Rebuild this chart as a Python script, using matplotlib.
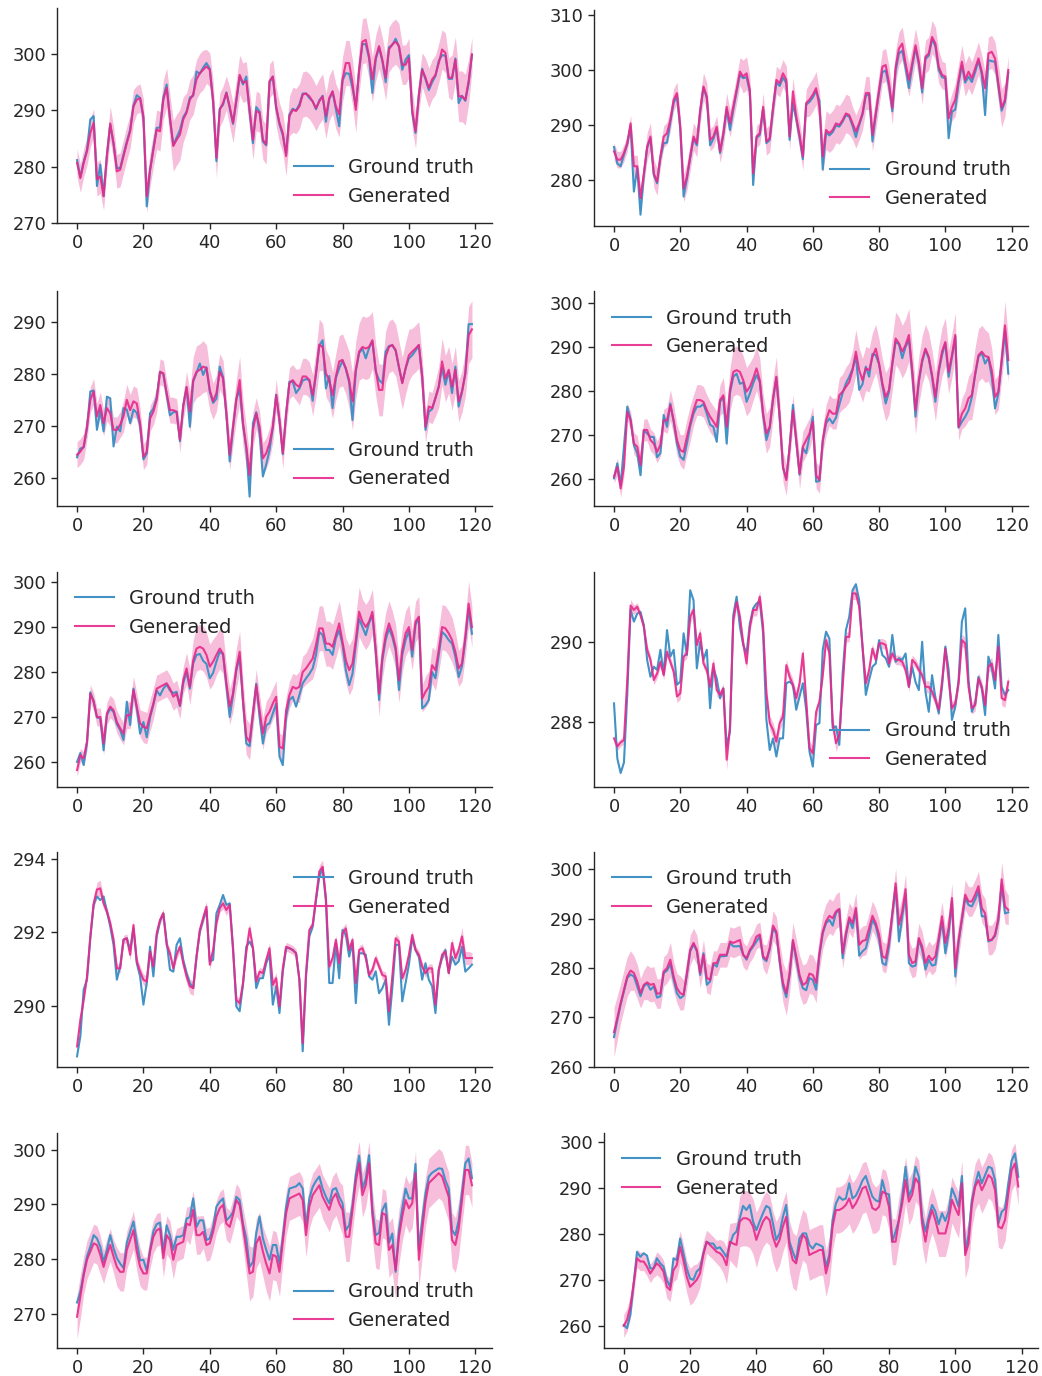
import matplotlib
matplotlib.use("Agg")
import matplotlib.pyplot as plt
import numpy as np

plt.rcParams['font.family'] = ['DejaVu Sans']
plt.rcParams['text.color'] = '#262626'
plt.rcParams['axes.labelcolor'] = '#262626'
plt.rcParams['xtick.color'] = '#262626'
plt.rcParams['ytick.color'] = '#262626'

steps = list(range(120))
xticks = [0, 20, 40, 60, 80, 100, 120]
labels = ["Ground truth", "Generated"]

# ---------------- Panel 1 ----------------
p1_gen = [280.7,278.0,280.7,282.8,286.0,287.8,277.8,278.3,274.8,282.0,
287.7,284.2,279.2,279.5,281.9,284.2,286.3,290.7,291.9,292.2,
289.0,274.8,279.5,283.0,286.6,286.3,291.9,294.0,288.7,283.7,
284.8,285.7,288.4,289.6,291.9,292.8,295.5,296.6,297.2,297.8,
297.2,291.9,281.6,290.1,291.3,293.1,290.7,287.8,291.9,296.3,
294.9,295.2,290.1,284.8,289.9,289.6,284.8,284.0,295.2,296.0,
290.7,287.8,286.0,281.9,289.0,290.1,289.9,290.7,292.8,293.0,
292.5,291.6,290.4,291.6,292.5,289.0,292.2,293.4,290.7,289.3,
295.5,298.4,298.4,294.9,290.1,297.2,302.2,302.5,299.6,295.5,
299.3,301.4,299.0,295.8,300.8,301.7,302.2,301.4,298.1,298.1,
299.3,290.1,286.3,292.8,297.2,295.8,294.0,295.5,296.3,298.4,
300.8,300.2,295.8,295.8,299.0,292.5,292.5,291.9,295.2,299.9]
p1_gt = [281.2,278.2,280.9,283.0,288.4,289.0,276.6,280.4,274.8,282.2,
287.5,284.0,279.8,279.8,282.2,284.5,286.6,290.9,292.7,292.2,
288.6,273.0,279.3,283.3,286.9,287.0,292.3,294.6,288.5,283.9,
285.2,286.5,288.8,289.8,292.3,292.6,296.9,296.5,297.6,298.4,
297.4,291.5,281.0,290.3,291.0,293.2,290.4,287.6,291.6,296.0,
294.6,296.0,289.7,284.2,290.6,289.8,284.5,283.8,295.0,296.0,
290.4,287.5,285.6,282.3,289.3,290.3,290.0,291.1,293.0,293.0,
292.2,291.6,290.2,291.8,292.6,288.0,292.0,293.3,290.2,287.2,
295.3,296.6,296.5,294.0,290.8,297.0,301.8,301.7,299.2,293.1,
299.0,301.2,298.7,295.0,301.2,301.6,302.7,301.3,297.2,299.0,
299.8,289.5,286.0,292.6,297.4,295.5,293.6,295.0,296.1,298.8,
299.8,299.7,295.6,295.6,299.2,291.3,292.6,291.7,294.8,299.9]
p1_spread = [2.5,2.5,2.5,2.5,2.5,2.5,3.0,3.0,2.5,2.5,
3.0,3.0,3.0,3.0,3.0,3.0,3.0,3.0,2.5,2.5,
3.0,3.0,3.0,3.0,3.5,3.5,3.5,3.5,4.0,4.5,
4.5,4.5,4.0,3.5,3.5,3.5,3.5,3.5,3.5,3.0,
3.0,3.5,3.5,3.0,3.0,3.0,3.5,3.5,3.5,3.5,
3.5,3.5,3.5,3.5,3.5,3.5,3.5,3.5,3.0,3.0,
3.5,3.5,3.5,3.5,3.5,4.0,4.0,4.0,4.0,4.0,
4.0,4.0,4.0,4.0,4.0,4.0,4.0,4.0,4.0,4.0,
4.0,4.0,4.0,4.0,4.0,4.0,4.0,4.0,4.0,4.0,
4.0,4.0,4.0,4.0,4.0,4.0,4.0,4.0,3.5,3.5,
3.5,3.5,3.0,3.0,3.0,3.5,3.5,3.5,3.5,3.5,
3.5,3.5,3.5,4.0,4.0,4.5,4.5,4.5,4.0,3.0]

# ---------------- Panel 2 ----------------
p2_gen = [285.2,283.7,283.7,284.9,286.7,290.3,282.5,282.5,276.7,281.2,
286.1,287.9,281.2,279.7,284.3,287.9,288.5,290.9,294.6,295.8,
289.7,278.5,280.6,284.3,287.9,286.7,292.7,297.0,295.2,287.3,
287.9,289.7,285.2,288.5,293.3,290.3,293.3,296.4,299.7,298.8,
299.4,296.4,281.2,287.9,288.5,293.3,287.0,287.6,293.3,298.2,
297.6,299.4,298.2,287.9,296.1,291.5,288.2,284.3,294.0,294.6,
295.5,296.7,293.3,284.3,289.1,288.5,289.1,290.3,290.0,290.9,
292.1,291.8,290.3,288.8,290.3,292.1,295.8,295.8,288.2,292.1,
296.4,300.6,300.9,297.6,293.1,300.6,303.9,304.8,301.2,298.2,
301.2,304.5,301.5,296.7,302.4,303.0,306.0,304.8,300.6,299.1,
298.8,291.2,293.3,294.6,298.2,301.5,298.2,299.7,298.5,300.3,
302.1,299.7,296.7,303.0,303.3,302.1,297.6,293.1,294.6,300.0]
p2_gt = [286.0,283.0,282.5,284.6,286.5,289.8,277.9,282.2,273.7,280.8,
285.8,287.6,280.9,279.4,284.0,286.7,286.8,290.5,294.0,295.3,
289.2,277.0,280.2,284.0,287.5,286.3,292.3,296.8,294.9,286.3,
287.5,289.3,284.9,288.2,292.8,289.1,292.8,296.0,299.1,298.5,
298.7,296.0,279.1,287.6,288.2,292.9,286.7,287.3,292.8,297.7,
297.1,298.6,297.6,287.3,294.0,291.0,287.7,283.8,293.7,294.2,
295.0,296.2,294.4,281.9,288.7,288.1,288.7,289.9,289.7,290.6,
291.8,291.5,289.8,287.8,290.0,291.9,295.3,295.6,287.0,291.8,
296.0,299.6,299.9,297.0,292.5,299.8,303.0,303.5,300.4,296.7,
300.6,304.0,301.0,295.9,302.0,302.6,305.6,304.3,300.0,298.7,
298.5,287.6,292.4,292.8,297.6,300.8,297.7,298.8,297.8,299.6,
301.7,299.2,291.8,301.8,301.6,301.5,297.0,292.6,294.2,299.5]
p2_spread = [1.5,1.5,1.5,1.5,1.5,1.5,2.0,2.0,2.0,2.0,
2.5,2.5,2.5,2.5,2.0,2.0,2.0,2.0,2.0,2.0,
2.0,2.5,2.5,2.5,2.5,2.5,2.5,2.5,2.5,2.0,
2.0,2.0,2.0,2.5,2.5,2.5,2.5,2.5,2.5,3.0,
3.0,2.5,2.0,2.0,2.0,2.5,2.5,2.5,2.5,2.5,
2.5,2.5,2.5,2.5,2.5,2.5,2.5,2.5,2.5,3.0,
3.0,3.0,3.0,3.0,3.5,3.5,3.5,3.5,3.5,3.5,
3.5,3.5,3.0,3.0,3.0,3.0,3.0,3.0,3.0,3.0,
3.0,3.0,3.0,3.0,3.0,3.0,3.0,3.0,3.0,3.0,
3.0,3.0,3.0,3.0,3.0,3.0,3.0,3.0,3.0,2.5,
2.5,2.5,2.5,3.0,3.0,3.0,3.0,3.0,3.0,3.0,
3.0,3.0,3.0,3.0,3.0,3.0,3.5,3.5,3.0,2.5]

# ---------------- Panel 3 ----------------
p3_gen = [264.4,265.0,266.0,269.8,275.0,276.6,271.8,274.0,270.5,273.4,
272.4,269.2,269.2,270.2,271.8,275.0,273.0,274.7,274.3,270.5,
264.0,265.0,271.4,272.7,275.0,280.4,280.1,276.3,273.0,273.0,
272.7,267.3,273.7,277.5,272.7,278.8,280.4,280.8,281.4,281.1,
276.9,274.7,276.3,280.4,279.1,272.4,264.4,269.8,275.0,278.8,
270.5,266.0,260.5,269.2,272.4,269.8,263.7,264.7,266.6,269.8,
275.9,271.1,264.7,272.4,278.2,278.8,277.9,277.5,279.5,279.5,
278.8,275.9,280.1,285.6,285.2,280.1,278.8,275.9,279.5,282.4,
282.7,281.1,278.8,274.7,280.8,284.3,285.2,284.9,285.2,286.5,
280.8,276.9,276.9,283.3,285.2,285.6,284.6,281.4,278.2,281.1,
283.6,284.3,284.9,285.6,279.5,269.8,273.7,273.4,275.3,277.5,
282.4,279.1,280.8,277.5,280.8,274.7,276.6,280.1,287.5,288.6]
p3_gt = [263.9,265.6,265.8,269.5,276.6,276.8,269.2,273.0,268.9,275.6,
275.3,266.0,269.8,268.9,273.4,273.1,270.5,273.1,272.5,270.0,
263.5,264.6,272.4,273.3,275.5,280.4,280.0,276.0,272.0,272.6,
272.7,267.0,274.0,277.3,269.8,278.5,280.2,282.0,279.8,281.3,
276.5,274.4,275.2,281.4,279.4,272.0,263.1,269.5,275.2,276.9,
270.2,265.6,256.3,270.5,272.6,268.5,260.2,262.5,265.3,269.6,
276.0,271.0,264.5,272.2,278.5,278.5,276.3,277.2,278.7,279.0,
278.8,274.8,280.0,285.5,286.5,277.2,279.6,273.4,279.2,281.1,
282.5,280.9,278.3,271.1,280.5,284.0,284.9,283.0,285.0,286.3,
280.5,278.8,278.2,284.3,285.4,285.5,284.5,281.2,278.3,281.0,
283.0,283.6,284.5,285.5,279.5,269.2,272.7,273.2,275.4,277.6,
281.1,277.9,280.5,276.3,281.4,273.7,276.5,280.0,289.6,289.6]
p3_spread = [2.5,2.5,2.5,2.5,2.5,2.5,2.5,2.5,2.5,2.5,
2.5,2.5,2.5,2.5,3.0,3.0,3.0,3.0,3.0,3.0,
2.5,2.5,2.5,2.5,2.5,2.5,2.5,2.5,2.5,2.5,
2.5,2.5,2.5,3.0,4.0,4.5,5.0,5.0,5.0,4.5,
4.0,3.5,3.5,3.5,3.5,3.0,3.0,3.5,4.0,4.5,
4.5,4.0,3.5,3.5,3.0,3.0,3.0,3.0,3.0,3.0,
3.0,3.0,3.0,3.0,3.0,3.0,3.0,3.5,3.5,3.5,
3.5,4.0,4.5,5.0,4.5,4.5,4.5,4.5,4.5,5.0,
5.0,5.0,5.5,5.5,5.5,5.5,6.0,6.0,6.0,5.5,
5.0,5.0,5.0,5.0,5.0,5.0,5.0,5.0,5.0,5.0,
5.0,4.5,4.5,4.5,4.0,3.0,3.0,3.0,3.5,4.0,
4.5,4.5,4.5,4.5,4.5,4.0,4.0,4.5,5.5,5.5]

# ---------------- Panel 4 ----------------
p4_gen = [260.5,262.7,257.8,262.7,275.2,273.3,268.0,267.3,263.1,271.1,
271.1,268.8,268.0,266.1,267.7,273.3,273.3,276.7,273.3,268.8,
266.5,266.1,269.5,272.6,275.6,277.9,277.9,277.5,275.6,274.1,
273.0,271.8,277.9,279.0,271.8,280.2,284.3,284.7,284.3,282.4,
279.8,280.9,282.8,285.1,282.4,274.8,270.3,271.8,278.3,283.2,
274.1,262.7,259.7,267.3,275.6,268.8,261.2,267.3,268.8,270.3,
273.0,260.8,259.7,268.8,273.3,275.6,274.8,274.8,279.0,279.8,
280.9,282.0,284.7,288.9,284.7,282.4,285.1,284.7,287.7,289.6,
286.2,281.7,278.6,280.2,286.2,291.9,290.8,288.9,290.4,292.7,
284.7,275.6,282.4,287.0,289.6,287.7,283.6,278.6,284.7,288.9,
291.1,284.3,288.1,292.7,271.8,274.8,276.0,278.3,279.0,283.9,
288.1,288.9,287.9,287.7,284.7,278.6,279.8,287.0,294.9,287.0]
p4_gt = [260.1,263.5,258.5,267.3,276.4,273.5,267.6,265.8,260.8,271.0,
270.3,269.5,269.5,264.9,265.8,274.5,271.8,277.1,273.0,268.0,
265.0,264.3,268.0,272.0,274.8,276.4,276.4,277.0,274.8,272.3,
271.8,268.4,277.5,278.5,268.0,279.5,283.2,283.9,281.6,281.9,
277.5,279.4,281.7,283.6,282.0,274.5,268.8,271.5,278.0,283.0,
273.8,262.5,260.0,267.0,276.8,268.5,260.9,267.0,265.8,269.8,
274.1,259.3,259.5,268.5,272.6,273.7,272.6,273.9,276.8,279.5,
281.7,283.2,285.0,287.8,280.2,281.5,285.5,283.2,288.4,288.1,
286.0,281.2,277.1,279.8,286.0,291.1,290.6,287.4,290.0,291.6,
284.2,274.1,282.0,286.5,289.3,287.3,283.0,277.5,284.3,288.1,
290.8,283.2,287.6,292.3,271.6,273.0,274.1,275.6,278.6,283.6,
287.7,288.6,286.2,287.5,283.2,276.0,279.3,286.5,293.7,283.9]
p4_spread = [1.5,2.0,2.0,2.0,2.0,2.0,2.5,2.5,2.5,2.5,
2.5,2.5,2.5,2.5,2.5,2.5,3.0,3.5,3.5,3.5,
3.5,4.0,4.0,4.0,3.5,3.5,3.5,3.5,3.5,3.5,
3.5,3.5,3.5,4.0,4.5,5.0,5.5,5.5,5.5,5.5,
5.5,5.5,5.0,5.0,5.0,4.5,4.5,4.5,4.5,4.5,
4.0,3.5,3.5,3.5,3.5,3.5,3.5,3.5,3.5,3.5,
3.5,3.0,3.0,3.0,3.5,3.5,3.5,3.5,4.0,4.0,
4.5,4.5,4.5,5.0,5.0,5.0,5.0,5.0,5.5,5.5,
5.5,5.5,5.5,5.5,6.0,6.0,6.0,6.0,6.0,6.0,
5.5,5.5,5.5,5.5,5.5,5.5,5.5,5.5,5.5,5.5,
5.5,5.0,5.0,5.0,3.0,3.5,4.0,5.0,5.5,6.0,
6.0,6.0,6.0,5.5,5.0,4.0,4.0,4.5,5.5,5.0]

# ---------------- Panel 5 ----------------
p5_gen = [258.3,261.6,260.9,264.6,275.3,273.5,270.1,270.1,264.2,270.9,
272.4,271.6,269.0,267.6,266.4,270.5,270.5,276.1,272.4,268.7,
267.9,267.6,270.5,273.1,276.4,276.8,277.2,277.6,276.4,274.6,
275.3,272.7,278.3,280.9,276.8,282.7,285.3,285.7,285.3,283.9,
281.3,282.4,283.9,285.3,284.2,277.6,272.4,275.3,280.9,284.6,
273.9,265.7,264.6,270.9,277.2,271.6,266.4,270.1,271.3,273.1,
274.6,263.5,263.1,271.6,275.0,276.8,276.4,276.8,280.1,280.9,
282.0,283.1,286.1,289.8,289.8,286.4,286.4,285.7,288.3,290.9,
286.8,282.7,280.5,282.0,287.2,293.5,291.3,290.1,291.3,293.5,
285.0,275.3,283.5,288.3,290.9,288.7,285.7,278.3,285.0,288.7,
290.1,285.0,291.3,292.4,274.2,275.7,276.8,281.6,280.5,285.0,
290.1,289.8,288.7,287.2,284.6,280.9,282.0,287.9,295.3,290.1]
p5_gt = [260.1,262.1,259.4,264.3,275.6,273.6,270.0,269.8,262.7,270.5,
272.0,271.2,268.5,267.2,265.0,273.5,268.3,276.4,272.0,266.4,
269.0,265.6,270.0,272.8,276.0,274.9,276.4,277.3,276.0,275.4,
275.7,272.5,277.6,280.1,276.4,282.0,283.9,284.1,282.6,281.9,
278.7,279.9,282.4,284.6,284.0,277.0,270.1,275.0,280.5,283.5,
273.5,264.2,263.6,270.5,277.5,270.1,264.2,268.3,268.7,270.9,
273.1,261.3,259.4,270.1,273.9,274.6,272.4,275.0,277.6,278.7,
279.7,280.9,283.9,289.0,288.3,285.0,285.0,283.9,287.6,289.4,
286.1,280.5,277.2,279.7,286.1,292.0,290.1,288.3,291.0,292.7,
284.6,273.9,282.7,287.2,289.8,287.9,284.9,276.1,283.9,287.2,
289.3,283.5,290.6,292.2,272.0,272.7,273.9,280.1,278.7,283.9,
289.0,288.3,287.2,286.4,283.5,279.0,281.4,287.2,294.2,288.6]
p5_spread = [1.5,1.5,1.5,2.0,2.0,2.0,2.0,2.0,2.5,2.5,
2.5,2.5,2.5,2.5,2.5,3.0,3.0,3.0,3.0,3.0,
3.5,3.5,3.5,3.5,3.0,3.0,3.0,3.0,3.0,3.0,
3.0,3.0,3.0,3.5,4.0,4.5,5.0,5.0,5.0,5.0,
5.0,5.0,4.5,4.5,4.5,4.0,4.0,4.0,4.5,4.5,
4.5,4.0,4.0,3.5,3.5,3.5,3.5,3.5,3.5,3.5,
3.5,3.0,3.0,3.0,3.0,3.0,3.0,3.5,3.5,3.5,
4.0,4.5,5.0,5.0,5.0,5.0,5.0,5.0,5.0,5.0,
5.0,5.0,5.5,5.5,5.5,5.5,5.0,5.0,5.0,5.0,
5.0,5.0,5.0,5.0,5.0,5.0,5.0,5.0,5.0,5.0,
5.0,4.5,4.5,4.5,3.0,3.5,3.5,4.0,4.5,5.0,
5.0,5.0,5.0,5.0,4.5,4.0,4.0,4.5,5.0,4.5]

# ---------------- Panel 6 ----------------
p6_gen = [287.6,287.4,287.5,287.56,289.05,290.9,290.79,290.87,290.66,290.37,
289.8,289.55,289.05,289.21,289.5,289.17,289.75,289.5,289.26,288.64,
288.72,289.63,289.71,290.62,290.79,289.92,290.21,289.46,289.3,288.88,
289.46,288.8,288.68,288.84,287.07,287.9,290.54,290.99,290.62,289.96,
289.46,290.37,290.79,290.79,291.12,290.37,288.72,287.98,287.81,287.52,
287.98,288.14,289.42,289.13,288.93,288.6,288.97,289.71,288.55,287.36,
287.23,288.26,288.51,289.17,290.04,289.71,287.98,287.48,287.69,288.88,
290.12,290.12,291.2,291.2,290.87,289.88,288.97,289.3,289.83,289.55,
289.96,289.96,289.92,289.46,289.71,289.55,289.55,289.5,289.3,288.88,
289.55,289.46,289.3,289.17,288.88,288.88,288.76,288.55,288.31,289.01,
289.83,289.05,288.35,288.47,288.97,290.04,289.96,288.88,288.35,288.43,
289.09,288.88,288.43,289.38,289.46,289.05,289.88,288.6,288.55,289.01]
p6_gt = [288.47,287.1,286.74,287.0,288.7,290.8,290.5,290.7,290.74,290.41,
289.55,289.13,289.38,289.3,289.8,289.2,290.29,289.63,289.8,288.93,
289.01,290.21,289.67,291.28,291.03,289.34,290.0,289.55,289.8,288.35,
289.34,289.09,288.6,288.84,287.4,287.77,290.66,291.12,290.37,289.92,
289.71,290.45,290.83,290.95,291.0,290.21,288.06,287.31,287.6,287.15,
287.6,287.6,288.97,289.01,288.93,288.31,288.64,288.97,288.31,287.27,
286.9,287.93,287.98,289.8,290.25,290.08,287.86,287.9,287.44,289.21,
290.29,290.62,291.28,291.43,291.03,289.88,288.68,289.05,289.38,289.46,
290.04,289.67,289.59,289.38,290.17,289.5,289.59,289.55,289.71,288.88,
289.38,289.0,288.8,290.0,288.76,288.26,289.17,288.6,288.22,288.88,
289.88,289.3,288.06,288.39,289.05,290.5,290.83,289.05,288.26,288.47,
289.13,288.84,288.18,289.63,289.34,288.84,290.17,288.88,288.68,288.8]
p6_spread = [0.10,0.10,0.10,0.10,0.12,0.15,0.12,0.10,0.10,0.10,
0.12,0.12,0.12,0.12,0.12,0.12,0.12,0.12,0.12,0.15,
0.15,0.12,0.12,0.15,0.15,0.15,0.15,0.12,0.12,0.15,
0.15,0.15,0.12,0.12,0.25,0.20,0.18,0.15,0.15,0.15,
0.15,0.15,0.15,0.15,0.15,0.15,0.18,0.18,0.18,0.18,
0.18,0.18,0.15,0.15,0.15,0.15,0.15,0.15,0.15,0.18,
0.18,0.15,0.15,0.15,0.15,0.15,0.18,0.20,0.18,0.15,
0.12,0.12,0.15,0.15,0.12,0.12,0.12,0.12,0.12,0.12,
0.12,0.12,0.12,0.12,0.12,0.12,0.12,0.12,0.12,0.12,
0.12,0.12,0.12,0.12,0.15,0.15,0.15,0.15,0.15,0.15,
0.15,0.15,0.15,0.15,0.15,0.15,0.15,0.15,0.15,0.15,
0.15,0.15,0.15,0.15,0.15,0.15,0.18,0.18,0.18,0.15]

# ---------------- Panel 7 ----------------
p7_gen = [288.89,289.62,290.16,290.8,291.89,292.79,293.17,293.2,292.79,292.57,
292.25,291.8,291.02,291.02,291.8,291.84,291.39,292.2,291.21,290.93,
290.71,290.66,291.48,291.07,291.98,292.34,292.52,291.66,291.43,291.02,
291.39,291.61,291.16,290.8,290.53,290.48,291.34,292.07,292.39,292.7,
291.12,291.52,292.25,292.66,292.79,292.61,292.75,291.52,290.16,290.07,
290.62,291.48,292.11,291.57,290.66,290.93,290.89,291.25,291.57,290.57,
290.75,289.98,291.02,291.61,291.57,291.52,291.43,290.71,288.98,290.89,
292.07,292.2,292.93,293.66,293.79,292.93,291.07,291.3,291.8,291.16,
291.98,292.11,291.52,291.8,290.62,291.52,291.57,291.3,290.84,290.98,
291.3,291.07,290.84,290.8,289.85,290.8,291.84,291.75,290.75,290.98,
291.39,291.93,291.52,291.39,291.07,290.89,291.02,291.02,290.03,290.98,
291.39,291.48,290.89,291.71,291.3,291.52,291.89,291.3,291.3,291.3]
p7_gt = [288.62,289.17,290.44,290.71,291.84,292.75,292.98,292.88,292.98,292.57,
292.16,291.66,290.71,291.07,291.8,291.84,291.52,292.11,291.16,290.8,
290.03,290.62,291.61,290.8,291.89,292.3,292.52,291.75,290.98,290.93,
291.66,291.84,291.25,290.89,290.62,290.48,291.34,292.02,292.34,292.61,
291.21,291.25,292.52,292.75,293.02,292.75,292.79,291.61,289.98,289.85,
290.57,291.61,291.75,291.57,290.48,290.75,290.75,291.16,291.39,290.03,
290.53,289.8,290.93,291.57,291.57,291.52,291.43,290.71,288.76,290.8,
291.89,292.16,292.88,293.52,293.75,292.84,290.62,290.62,291.71,290.75,
292.07,291.93,291.34,291.71,290.07,291.43,291.43,291.39,290.8,290.71,
290.94,290.34,290.48,290.71,289.48,290.48,291.66,291.66,290.12,290.62,
291.12,291.84,291.52,291.34,290.71,291.16,290.71,290.53,289.8,290.98,
291.3,291.52,290.89,291.34,291.12,291.21,291.61,290.93,291.02,291.12]
p7_spread = [0.10,0.12,0.12,0.12,0.12,0.15,0.20,0.22,0.15,0.12,
0.12,0.12,0.12,0.12,0.12,0.12,0.15,0.15,0.15,0.15,
0.15,0.15,0.12,0.12,0.12,0.12,0.12,0.12,0.12,0.12,
0.12,0.12,0.15,0.18,0.20,0.20,0.15,0.12,0.15,0.15,
0.15,0.12,0.12,0.12,0.15,0.15,0.12,0.12,0.12,0.12,
0.12,0.12,0.15,0.12,0.12,0.12,0.12,0.12,0.15,0.15,
0.15,0.12,0.12,0.12,0.12,0.12,0.12,0.12,0.15,0.12,
0.12,0.12,0.15,0.18,0.18,0.15,0.12,0.12,0.12,0.12,
0.15,0.15,0.12,0.12,0.12,0.12,0.12,0.12,0.12,0.12,
0.12,0.12,0.12,0.12,0.15,0.12,0.12,0.12,0.12,0.12,
0.12,0.12,0.12,0.12,0.12,0.12,0.12,0.12,0.12,0.12,
0.12,0.12,0.12,0.15,0.15,0.15,0.25,0.18,0.18,0.15]

# ---------------- Panel 8 ----------------
p8_gen = [267.0,269.9,272.9,275.6,278.3,279.5,279.0,277.3,274.9,276.6,
277.1,276.6,276.8,274.8,274.9,279.3,280.0,281.7,278.3,275.9,
274.9,274.6,279.0,283.7,285.1,283.7,279.0,282.7,278.0,277.6,
281.0,281.0,282.7,282.7,282.7,285.4,285.1,285.4,285.7,282.7,
282.0,283.7,284.7,286.4,286.8,282.4,281.7,284.1,288.6,287.4,
281.7,277.0,274.9,279.0,285.7,282.4,278.6,276.6,277.0,278.9,
278.6,277.0,283.0,287.4,289.5,290.6,290.1,291.5,292.0,283.0,
287.1,290.3,289.1,292.2,284.7,285.5,285.7,288.1,290.6,289.1,
286.8,282.4,282.0,285.4,291.1,297.2,288.8,291.5,296.0,282.7,
281.0,281.4,286.1,284.4,281.0,282.5,281.6,282.4,286.1,290.5,
285.1,288.1,294.2,280.0,285.7,290.1,294.9,293.5,293.5,294.9,
296.6,292.2,291.1,285.7,285.7,286.8,290.1,298.0,292.5,291.8]
p8_gt = [266.0,269.4,272.6,275.3,278.0,278.7,278.3,276.3,274.3,276.3,
276.9,275.6,276.3,274.0,274.3,279.0,279.5,280.8,277.6,274.9,
273.9,274.4,278.6,283.4,284.8,283.4,278.6,283.0,276.6,277.3,
280.8,280.3,282.4,282.4,282.5,285.1,284.4,284.4,284.5,282.7,
281.7,283.4,284.4,285.4,286.5,282.0,281.4,283.8,288.1,287.0,
281.2,276.3,274.1,278.6,285.3,281.7,277.9,275.9,275.5,278.0,
277.6,275.6,282.6,287.0,289.1,289.8,288.6,291.2,291.8,282.0,
286.6,289.8,288.1,291.8,282.5,283.4,284.0,286.7,289.8,288.5,
285.8,281.0,280.6,284.4,290.8,296.4,285.4,290.5,294.9,281.0,
280.3,280.5,285.8,283.7,279.7,281.7,280.5,280.7,285.4,289.5,
283.0,287.0,293.5,278.3,285.2,289.7,294.2,292.8,292.5,293.9,
295.6,290.5,290.5,285.4,285.7,286.5,289.6,296.9,291.1,291.3]
p8_spread = [5.0,4.5,4.0,4.0,4.0,4.0,3.5,3.5,3.0,3.0,
3.5,3.5,3.5,3.0,3.0,3.0,3.0,3.5,3.0,3.0,
3.5,3.0,3.0,3.0,3.0,3.0,3.0,3.0,3.0,3.0,
2.5,2.5,2.5,2.5,2.5,3.0,3.0,3.0,3.0,2.5,
2.5,2.5,2.5,2.5,2.5,2.5,3.0,3.0,3.0,3.0,
3.5,4.0,4.5,4.0,3.5,3.5,4.0,4.0,4.0,4.0,
4.0,4.0,3.5,3.5,3.5,3.5,3.5,3.5,3.5,3.0,
3.0,3.0,3.0,3.0,3.0,3.0,3.0,3.0,3.0,3.0,
3.0,3.0,3.0,3.0,3.0,3.0,3.0,3.0,3.0,3.0,
3.0,3.0,3.0,3.0,3.0,3.0,3.0,3.0,3.0,3.0,
3.0,3.0,3.0,4.0,3.5,3.0,3.0,3.0,3.0,3.0,
3.0,3.0,3.0,3.0,3.0,3.0,3.0,3.5,3.5,3.0]

# ---------------- Panel 9 ----------------
p9_gen = [269.5,273.2,277.1,279.9,281.4,282.9,282.6,280.8,278.6,280.8,
282.6,280.5,278.6,277.7,277.7,281.7,283.5,285.3,281.4,278.6,
277.4,277.4,281.4,284.1,285.3,285.6,280.2,284.4,283.5,279.9,
282.6,282.9,283.2,286.5,286.2,289.0,284.4,284.4,285.0,282.6,
282.9,285.0,287.8,289.3,289.9,286.5,285.9,288.1,290.8,289.9,
285.9,281.7,277.4,277.7,282.9,284.1,281.4,279.2,277.4,280.8,
280.5,277.7,283.2,288.4,291.1,291.4,291.7,292.0,290.8,284.4,
289.6,291.7,292.6,293.5,291.4,290.2,289.0,291.1,292.0,290.2,
289.0,284.1,284.1,289.0,294.2,297.5,291.7,293.5,297.5,288.1,
282.9,282.6,288.4,288.1,281.7,282.6,278.0,284.1,287.8,290.8,
289.3,290.2,295.7,279.9,285.3,290.5,293.9,294.5,295.1,295.7,
295.1,293.2,291.4,283.5,282.6,285.6,290.8,296.3,296.3,293.5]
p9_gt = [272.1,274.1,277.4,280.5,282.3,284.4,283.8,282.3,279.5,281.7,
284.4,282.0,280.2,279.2,278.4,283.0,285.0,286.9,283.2,279.8,
279.9,277.9,281.7,285.1,286.4,286.7,281.3,286.2,284.4,281.7,
284.1,284.1,284.4,287.4,287.7,291.1,285.9,287.1,287.1,283.5,
283.8,285.9,289.6,290.5,291.1,287.1,287.7,288.6,291.4,290.8,
286.5,283.8,278.6,279.5,284.8,287.8,283.8,281.7,279.9,282.6,
282.6,279.2,284.1,289.6,292.9,293.1,293.3,293.9,292.9,285.9,
291.1,293.2,294.3,295.1,292.9,291.4,290.2,292.7,293.0,291.4,
290.2,285.3,286.2,289.9,295.4,298.9,292.9,294.7,299.0,289.3,
284.4,284.8,289.0,290.2,283.0,284.7,277.7,285.3,289.3,292.9,
291.1,291.1,297.4,281.7,287.1,292.0,295.1,295.8,296.2,296.6,
296.5,294.4,292.9,285.3,284.4,287.1,292.3,297.5,298.4,294.8]
p9_spread = [4.0,4.0,3.5,3.5,3.5,3.5,3.5,3.5,3.0,3.0,
3.0,3.0,3.5,3.5,3.5,3.5,3.5,3.5,3.5,3.5,
3.0,3.0,3.0,3.0,3.0,3.0,3.5,3.5,3.5,3.5,
3.0,3.0,3.0,3.0,3.5,3.5,3.5,3.5,3.0,3.0,
3.0,3.0,3.0,3.0,3.0,3.0,3.0,3.0,3.0,3.0,
3.5,4.5,5.0,4.5,4.5,4.5,4.5,5.0,5.0,4.5,
4.5,4.5,4.0,4.0,4.0,4.0,4.0,4.0,4.0,4.0,
4.0,4.0,4.0,4.0,4.0,4.0,4.0,4.0,4.0,4.0,
4.5,4.5,4.5,4.0,4.0,4.0,4.0,4.0,4.0,4.5,
4.5,4.5,4.5,4.5,5.0,5.0,5.5,5.0,4.5,4.5,
4.5,4.5,4.0,5.0,5.0,4.5,4.5,4.5,4.5,4.5,
4.5,4.5,4.5,5.0,5.0,5.0,4.5,4.5,4.5,4.0]

# ---------------- Panel 10 ----------------
p10_gen = [260.1,261.4,264.3,269.3,274.8,274.1,274.1,273.0,271.5,272.6,
273.7,273.0,271.9,268.6,267.9,272.2,273.3,277.3,274.4,270.8,
268.6,269.3,270.1,271.5,275.5,278.4,277.7,277.0,276.2,275.9,
275.1,273.3,278.4,278.0,277.7,282.8,283.5,283.5,283.1,281.7,
278.8,280.9,282.8,283.8,283.1,279.5,277.3,278.8,281.7,283.8,
277.3,274.4,273.7,277.3,279.9,279.1,275.5,275.9,276.2,276.6,
276.6,271.5,274.4,281.7,285.3,285.3,285.7,286.4,287.8,285.7,
286.7,288.2,290.0,290.4,288.2,285.7,285.3,286.0,289.3,288.9,
286.0,278.4,278.4,283.1,286.7,291.8,287.1,288.6,292.2,291.1,
282.4,278.4,282.8,285.3,283.1,280.2,280.2,280.2,283.1,287.5,
285.7,284.2,291.1,275.5,278.0,286.4,290.4,291.8,289.6,291.1,
292.9,292.2,289.6,281.7,281.3,283.1,288.9,294.0,295.4,290.4]
p10_gt = [260.3,259.6,262.5,269.3,276.2,275.1,275.9,275.4,272.6,272.6,
274.8,273.7,273.0,270.1,268.6,274.8,274.4,279.1,275.9,272.6,
270.4,270.1,271.9,272.6,275.9,278.4,278.0,278.0,276.9,277.2,
276.2,275.1,277.7,279.9,280.6,283.5,286.2,285.3,286.4,282.8,
280.9,282.8,284.6,286.2,285.7,282.4,278.8,280.2,283.8,286.4,
278.4,276.2,274.4,279.1,280.2,280.2,277.7,276.9,278.0,277.7,
277.3,273.0,275.5,283.1,286.7,288.2,287.5,287.8,291.1,287.8,
288.4,289.9,291.7,292.7,290.4,288.2,287.4,287.1,291.8,288.9,
288.7,278.4,280.6,283.1,288.2,294.7,288.2,290.0,294.7,292.5,
283.8,280.6,283.8,286.4,285.0,282.2,284.6,282.9,285.0,290.0,
288.2,286.0,292.7,276.2,279.9,287.5,290.9,293.6,291.1,292.9,
294.7,294.4,291.8,282.4,284.9,285.6,291.1,296.0,297.6,292.5]
p10_spread = [2.5,2.5,2.5,2.5,2.0,2.0,2.0,2.0,2.0,2.0,
2.5,2.5,2.5,2.5,2.5,2.5,3.0,3.5,3.5,3.5,
4.0,4.0,3.5,3.0,3.0,2.5,2.5,2.5,2.5,3.0,
3.5,4.0,4.0,4.5,5.0,5.5,6.0,6.0,6.0,6.0,
6.0,5.5,5.5,5.5,5.5,5.5,5.5,5.5,5.5,5.5,
5.5,6.0,6.0,5.5,5.5,5.5,5.5,5.5,5.5,5.5,
5.5,5.0,5.0,5.0,5.0,5.0,5.0,5.0,5.5,5.5,
5.5,5.5,5.5,5.5,5.5,5.5,5.0,5.0,5.0,5.0,
5.0,5.0,5.0,5.0,5.0,5.0,5.0,5.0,5.0,5.0,
5.0,5.0,5.0,5.0,5.0,5.0,5.0,5.0,5.0,5.0,
5.0,5.0,5.0,5.0,5.0,5.0,5.0,5.0,5.0,5.0,
5.0,5.0,5.0,4.5,4.5,4.5,4.5,4.5,4.5,4.0]

panels = [
    (p1_gt, p1_gen, p1_spread),
    (p2_gt, p2_gen, p2_spread),
    (p3_gt, p3_gen, p3_spread),
    (p4_gt, p4_gen, p4_spread),
    (p5_gt, p5_gen, p5_spread),
    (p6_gt, p6_gen, p6_spread),
    (p7_gt, p7_gen, p7_spread),
    (p8_gt, p8_gen, p8_spread),
    (p9_gt, p9_gen, p9_spread),
    (p10_gt, p10_gen, p10_spread),
]

# layout (pixels: left, top, right, bottom)
W, H = 1042, 1376
boxes = [
    (57.3, 8.3, 491.7, 223.3), (594.3, 10.0, 1028.0, 225.7),
    (57.3, 291.0, 491.7, 506.0), (594.3, 291.0, 1028.0, 506.0),
    (57.3, 571.7, 491.7, 786.7), (594.3, 571.7, 1028.0, 786.7),
    (57.3, 851.7, 491.7, 1067.0), (594.3, 851.7, 1028.0, 1066.7),
    (57.3, 1132.7, 491.7, 1347.7), (604.0, 1132.7, 1038.0, 1347.7),
]
ylims = [(270.0, 308.1), (271.7, 310.9), (254.5, 296.0), (253.8, 302.7),
         (254.6, 302.4), (286.4, 291.74), (288.33, 294.2), (260.07, 303.6),
         (263.85, 303.1), (255.36, 302.1)]
yticks = [[270, 280, 290, 300], [280, 290, 300, 310], [260, 270, 280, 290],
          [260, 270, 280, 290, 300], [260, 270, 280, 290, 300], [288, 290],
          [290, 292, 294], [260, 270, 280, 290, 300], [270, 280, 290, 300],
          [260, 270, 280, 290, 300]]
legend_locs = ['lower right', 'lower right', 'lower right', 'upper left',
               'upper left', 'lower right', 'upper right', 'upper left',
               'lower right', 'upper left']

BLUE = '#4292c6'
PINK = '#e7298a'
DARK = '#262626'

fig = plt.figure(figsize=(W / 100, H / 100), dpi=100)
for k, (gt, gen, spread) in enumerate(panels):
    l, t, r, b = boxes[k]
    ax = fig.add_axes([l / W, 1 - b / H, (r - l) / W, (b - t) / H])
    gen_a = np.array(gen)
    sp = np.array(spread)
    ax.fill_between(steps, gen_a - sp, gen_a + sp, color=PINK, alpha=0.3,
                    linewidth=0)
    ax.plot(steps, gt, color=BLUE, lw=1.5, label=labels[0])
    ax.plot(steps, gen, color=PINK, lw=1.5, alpha=0.9, label=labels[1])
    ax.set_xlim(-5.95, 124.95)
    ax.set_ylim(*ylims[k])
    ax.set_xticks(xticks)
    ax.set_yticks(yticks[k])
    for s in ['top', 'right']:
        ax.spines[s].set_visible(False)
    for s in ['left', 'bottom']:
        ax.spines[s].set_color(DARK)
        ax.spines[s].set_linewidth(1.0)
    ax.tick_params(axis='both', labelsize=12.8, length=4.5, width=1,
                   color=DARK, labelcolor=DARK, direction='out')
    ax.legend(loc=legend_locs[k], frameon=False, fontsize=14.0,
              handlelength=2.0)

fig.savefig('out.png', dpi=100)
